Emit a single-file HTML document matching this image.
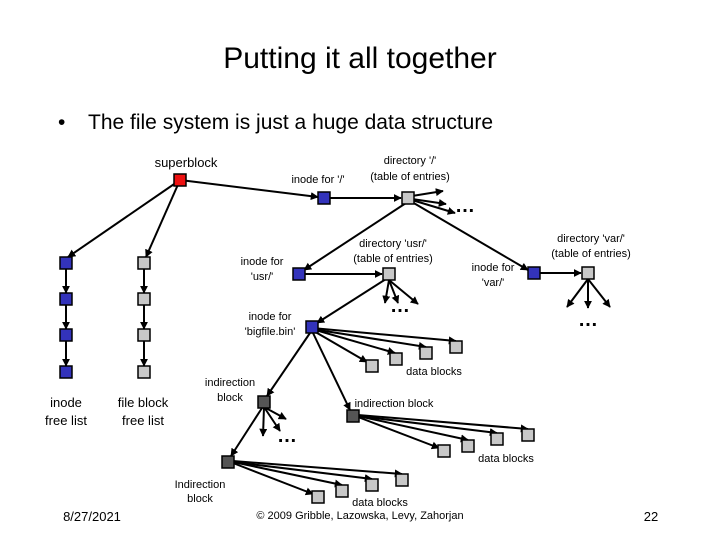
<!DOCTYPE html><html><head><style>body{margin:0;background:#fff}svg text{font-family:"Liberation Sans",sans-serif;fill:#000}</style></head><body>
<svg width="720" height="540" viewBox="0 0 720 540" xmlns="http://www.w3.org/2000/svg">
<defs><marker id="a" viewBox="0 0 10 10" refX="9" refY="5" markerWidth="4" markerHeight="4" orient="auto"><path d="M0,0L10,5L0,10z" fill="#000"/></marker></defs>
<text x="360" y="68" font-size="30" text-anchor="middle">Putting it all together</text>
<text x="58" y="129" font-size="21">•</text><text x="88" y="129" font-size="21">The file system is just a huge data structure</text>
<g stroke="#000" stroke-width="2" fill="none" marker-end="url(#a)">
<line x1="180" y1="180" x2="318" y2="197" marker-end=""/>
<line x1="180" y1="180" x2="68" y2="257"/><line x1="180" y1="180" x2="146" y2="257"/>
<line x1="66" y1="269" x2="66" y2="293"/><line x1="66" y1="305" x2="66" y2="329"/><line x1="66" y1="341" x2="66" y2="366"/>
<line x1="144" y1="269" x2="144" y2="293"/><line x1="144" y1="305" x2="144" y2="329"/><line x1="144" y1="341" x2="144" y2="366"/>
<line x1="330" y1="198" x2="401" y2="198"/>
<line x1="412" y1="196" x2="443" y2="191"/><line x1="412" y1="199" x2="446" y2="204"/><line x1="412" y1="200" x2="455" y2="213"/>
<line x1="406" y1="203" x2="304" y2="270"/><line x1="412" y1="202" x2="528" y2="270"/>
<line x1="305" y1="274" x2="382" y2="274"/>
<line x1="389" y1="280" x2="385" y2="303"/><line x1="389" y1="280" x2="398" y2="303"/><line x1="389" y1="280" x2="418" y2="304"/>
<line x1="386" y1="279" x2="317" y2="323"/>
<line x1="540" y1="273" x2="581" y2="273"/>
<line x1="588" y1="279" x2="567" y2="307"/><line x1="588" y1="279" x2="588" y2="308"/><line x1="588" y1="279" x2="610" y2="307"/>
<line x1="312" y1="330" x2="367" y2="362"/><line x1="312" y1="329" x2="395" y2="353"/><line x1="312" y1="329" x2="426" y2="347"/><line x1="312" y1="328" x2="456" y2="341"/>
<line x1="310" y1="333" x2="267" y2="396"/><line x1="313" y1="333" x2="350" y2="410"/>
<line x1="264" y1="407" x2="263" y2="436"/><line x1="264" y1="407" x2="280" y2="431"/><line x1="264" y1="407" x2="286" y2="419"/>
<line x1="262" y1="408" x2="231" y2="456"/>
<line x1="358" y1="417" x2="439" y2="448"/><line x1="358" y1="416" x2="468" y2="440"/><line x1="358" y1="416" x2="497" y2="433"/><line x1="358" y1="415" x2="528" y2="429"/>
<line x1="233" y1="463" x2="313" y2="494"/><line x1="233" y1="462" x2="342" y2="485"/><line x1="233" y1="462" x2="372" y2="479"/><line x1="233" y1="461" x2="402" y2="474"/>
</g>
<g stroke="#000" stroke-width="1.5">
<rect x="174" y="174" width="12" height="12" fill="#ee1111"/>
<g fill="#3333bb"><rect x="60" y="257" width="12" height="12"/><rect x="60" y="293" width="12" height="12"/><rect x="60" y="329" width="12" height="12"/><rect x="60" y="366" width="12" height="12"/>
<rect x="318" y="192" width="12" height="12"/><rect x="293" y="268" width="12" height="12"/><rect x="528" y="267" width="12" height="12"/><rect x="306" y="321" width="12" height="12"/></g>
<g fill="#c8c8c8"><rect x="138" y="257" width="12" height="12"/><rect x="138" y="293" width="12" height="12"/><rect x="138" y="329" width="12" height="12"/><rect x="138" y="366" width="12" height="12"/>
<rect x="402" y="192" width="12" height="12"/><rect x="383" y="268" width="12" height="12"/><rect x="582" y="267" width="12" height="12"/>
<rect x="366" y="360" width="12" height="12"/><rect x="390" y="353" width="12" height="12"/><rect x="420" y="347" width="12" height="12"/><rect x="450" y="341" width="12" height="12"/>
<rect x="438" y="445" width="12" height="12"/><rect x="462" y="440" width="12" height="12"/><rect x="491" y="433" width="12" height="12"/><rect x="522" y="429" width="12" height="12"/>
<rect x="312" y="491" width="12" height="12"/><rect x="336" y="485" width="12" height="12"/><rect x="366" y="479" width="12" height="12"/><rect x="396" y="474" width="12" height="12"/></g>
<g fill="#555"><rect x="258" y="396" width="12" height="12"/><rect x="347" y="410" width="12" height="12"/><rect x="222" y="456" width="12" height="12"/></g>
</g>
<g font-size="20" font-weight="bold" text-anchor="middle"><text x="465" y="212">…</text><text x="400" y="312">…</text><text x="588" y="326">…</text><text x="287" y="442">…</text></g>
<g font-size="11" text-anchor="middle">
<text x="186" y="167" font-size="13">superblock</text>
<text x="318" y="183">inode for '/'</text>
<text x="410" y="164">directory '/'</text><text x="410" y="180">(table of entries)</text>
<text x="262" y="265">inode for</text><text x="262" y="280">'usr/'</text>
<text x="393" y="247">directory 'usr/'</text><text x="393" y="262">(table of entries)</text>
<text x="493" y="271">inode for</text><text x="493" y="286">'var/'</text>
<text x="591" y="242">directory 'var/'</text><text x="591" y="257">(table of entries)</text>
<text x="270" y="320">inode for</text><text x="270" y="335">'bigfile.bin'</text>
<text x="434" y="375">data blocks</text>
<text x="230" y="386">indirection</text><text x="230" y="401">block</text>
<text x="394" y="407">indirection block</text>
<text x="506" y="462">data blocks</text>
<text x="200" y="488">Indirection</text><text x="200" y="502">block</text>
<text x="380" y="506">data blocks</text>
<text x="360" y="519">© 2009 Gribble, Lazowska, Levy, Zahorjan</text>
</g>
<g font-size="13" text-anchor="middle">
<text x="66" y="407">inode</text><text x="66" y="425">free list</text>
<text x="143" y="407">file block</text><text x="143" y="425">free list</text>
<text x="92" y="521">8/27/2021</text><text x="651" y="521">22</text>
</g>
</svg></body></html>
